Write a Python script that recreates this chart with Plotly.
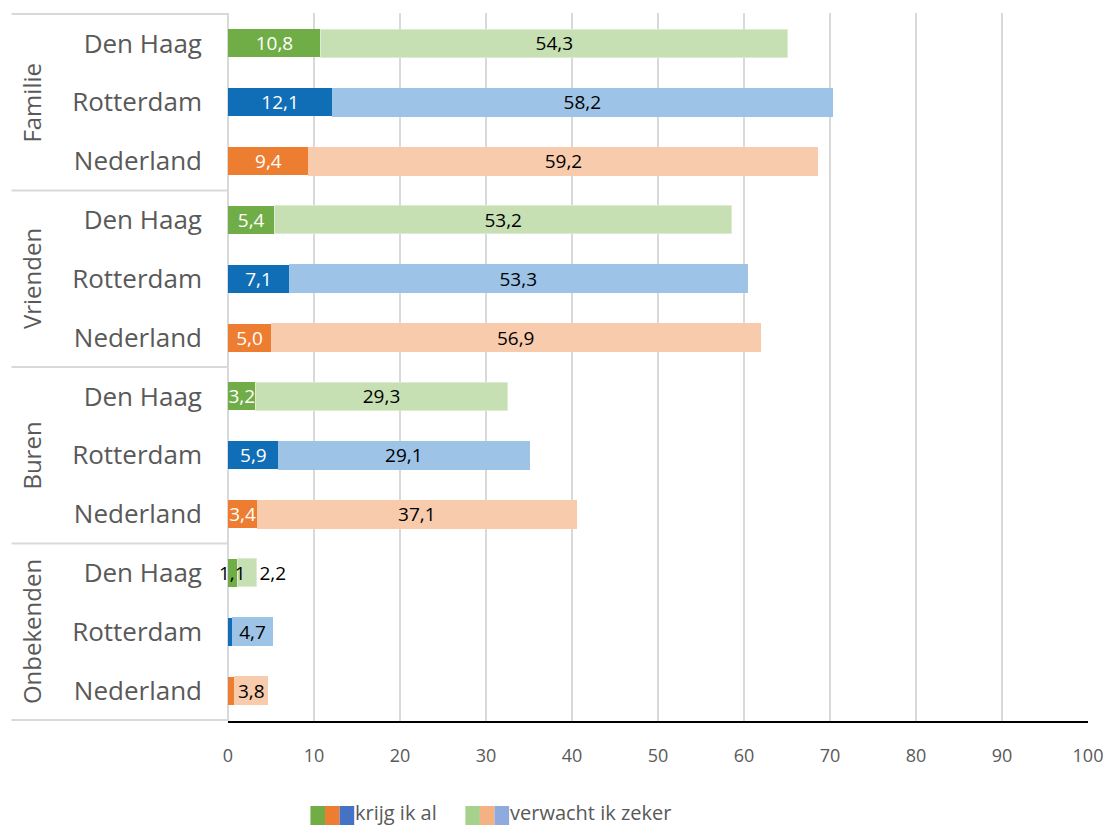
import plotly.graph_objects as go

# --- data -------------------------------------------------------------
groups = ["Familie", "Vrienden", "Buren", "Onbekenden"]
cities = ["Den Haag", "Rotterdam", "Nederland"]

# share (%) per group, in city order Den Haag / Rotterdam / Nederland
krijg_ik_al = [10.8, 12.1, 9.4,
               5.4, 7.1, 5.0,
               3.2, 5.9, 3.4,
               1.1, 0.5, 0.8]
verwacht_ik_zeker = [54.3, 58.2, 59.2,
                     53.2, 53.3, 56.9,
                     29.3, 29.1, 37.1,
                     2.2, 4.7, 3.8]

x_ticks = [0, 10, 20, 30, 40, 50, 60, 70, 80, 90, 100]

# --- styling ----------------------------------------------------------
dark = {"Den Haag": "#70AD47", "Rotterdam": "#106EB6", "Nederland": "#ED7D31"}
light = {"Den Haag": "#C6E0B4", "Rotterdam": "#9DC3E6", "Nederland": "#F8CBAD"}
light_edge = {"Den Haag": "#DDEBD2", "Rotterdam": "#9DC3E6", "Nederland": "#F8CBAD"}
legend_dark = ["#70AD47", "#ED7D31", "#4472C4"]
legend_light = ["#A9D18E", "#F4B183", "#8FAADC"]
GREY = "#595959"
FONT = "Open Sans"
LABEL_SIZE = 19

keys = [f"{g}|{c}" for g in groups for c in cities]
row_city = [c for g in groups for c in cities]


def fmt(v):
    return f"{v:.1f}".replace(".", ",")


# labels of the first segment; the narrow Onbekenden bars get no inside label
dark_text = [fmt(v) for v in krijg_ik_al]
small_dark = {9: "black"}          # labelled above the bar, in black
for i in (9, 10, 11):
    dark_text[i] = ""

light_text = [fmt(v) for v in verwacht_ik_zeker]
light_pos = ["inside"] * len(keys)
light_pos[9] = "outside"

fig = go.Figure()
fig.add_trace(go.Bar(
    name="krijg ik al", orientation="h",
    y=keys, x=krijg_ik_al,
    marker=dict(color=[dark[c] for c in row_city], line=dict(width=0)),
    text=dark_text, textposition="inside", insidetextanchor="middle",
    textangle=0,
    textfont=dict(color="white", size=LABEL_SIZE, family=FONT),
    cliponaxis=False,
    showlegend=False,
))
fig.add_trace(go.Bar(
    name="verwacht ik zeker", orientation="h",
    y=keys, x=verwacht_ik_zeker,
    marker=dict(color=[light[c] for c in row_city],
                line=dict(width=1, color=[light_edge[c] for c in row_city])),
    text=light_text, textposition=light_pos, insidetextanchor="middle",
    textangle=0,
    textfont=dict(color="black", size=LABEL_SIZE, family=FONT),
    cliponaxis=False,
    showlegend=False,
))

# value label of the narrow Den Haag / Onbekenden segment, drawn on top
for i, col in small_dark.items():
    fig.add_annotation(text=fmt(krijg_ik_al[i]), x=krijg_ik_al[i] / 2, y=keys[i],
                       xref="x", yref="y", showarrow=False,
                       xanchor="center", yanchor="middle",
                       font=dict(size=LABEL_SIZE, color=col, family=FONT))

W, H = 1115, 828
L, R, T, B = 228, 21, 13, 107
pw = W - L - R
ph = H - T - B

fig.update_layout(
    width=W, height=H,
    margin=dict(l=L, r=R, t=T, b=B),
    barmode="stack", bargap=0.525,
    plot_bgcolor="white", paper_bgcolor="white",
    font=dict(family=FONT, color=GREY),
    uniformtext=dict(minsize=LABEL_SIZE, mode="show"),
    xaxis=dict(
        range=[0, 100], tickvals=x_ticks,
        showgrid=True, gridcolor="#D9D9D9", gridwidth=2,
        zeroline=False,
        showline=True, linecolor="black", linewidth=2,
        tickfont=dict(size=18, color=GREY),
        ticklabelstandoff=17,
        fixedrange=True,
    ),
    yaxis=dict(
        type="category", categoryorder="array", categoryarray=keys,
        autorange="reversed",
        tickvals=keys, ticktext=row_city,
        tickfont=dict(size=26, color=GREY),
        ticklabelstandoff=25,
        showgrid=False, zeroline=False, showline=False,
        fixedrange=True,
    ),
)

# group separators on the category axis
x_left = -(L - 10) / pw
for i in range(len(groups) + 1):
    fig.add_shape(type="line", xref="paper", yref="y",
                  x0=x_left, x1=0, y0=3 * i - 0.5, y1=3 * i - 0.5,
                  line=dict(color="#D9D9D9", width=2), layer="below")
# vertical axis line at zero
fig.add_shape(type="line", xref="paper", yref="paper", x0=0, x1=0, y0=0, y1=1,
              line=dict(color="#D9D9D9", width=2), layer="below")

# rotated group labels
for i, g in enumerate(groups):
    fig.add_annotation(text=g, xref="paper", yref="y",
                       x=-(L - 30) / pw, y=3 * i + 1, textangle=-90,
                       showarrow=False, xanchor="center", yanchor="middle",
                       font=dict(size=24, color=GREY, family=FONT))

# legend with three-colour swatches
sw = 14.7
y_mid = -(812 - (H - B)) / ph
sw_y0 = -(825 - (H - B)) / ph
sw_y1 = -(806 - (H - B)) / ph


def legend_entry(x_px, colours, label):
    for k, col in enumerate(colours):
        x0 = (x_px + k * sw - L) / pw
        x1 = (x_px + (k + 1) * sw - L) / pw
        fig.add_shape(type="rect", xref="paper", yref="paper",
                      x0=x0, x1=x1, y0=sw_y0, y1=sw_y1,
                      fillcolor=col, line=dict(width=0))
    fig.add_annotation(text=label, xref="paper", yref="paper",
                       x=(x_px + 3 * sw - L) / pw, y=y_mid,
                       xanchor="left", yanchor="middle", showarrow=False,
                       borderpad=0,
                       font=dict(size=20, color=GREY, family=FONT))


legend_entry(311, legend_dark, "krijg ik al")
legend_entry(467, legend_light, "verwacht ik zeker")

fig.write_html("out.html")
